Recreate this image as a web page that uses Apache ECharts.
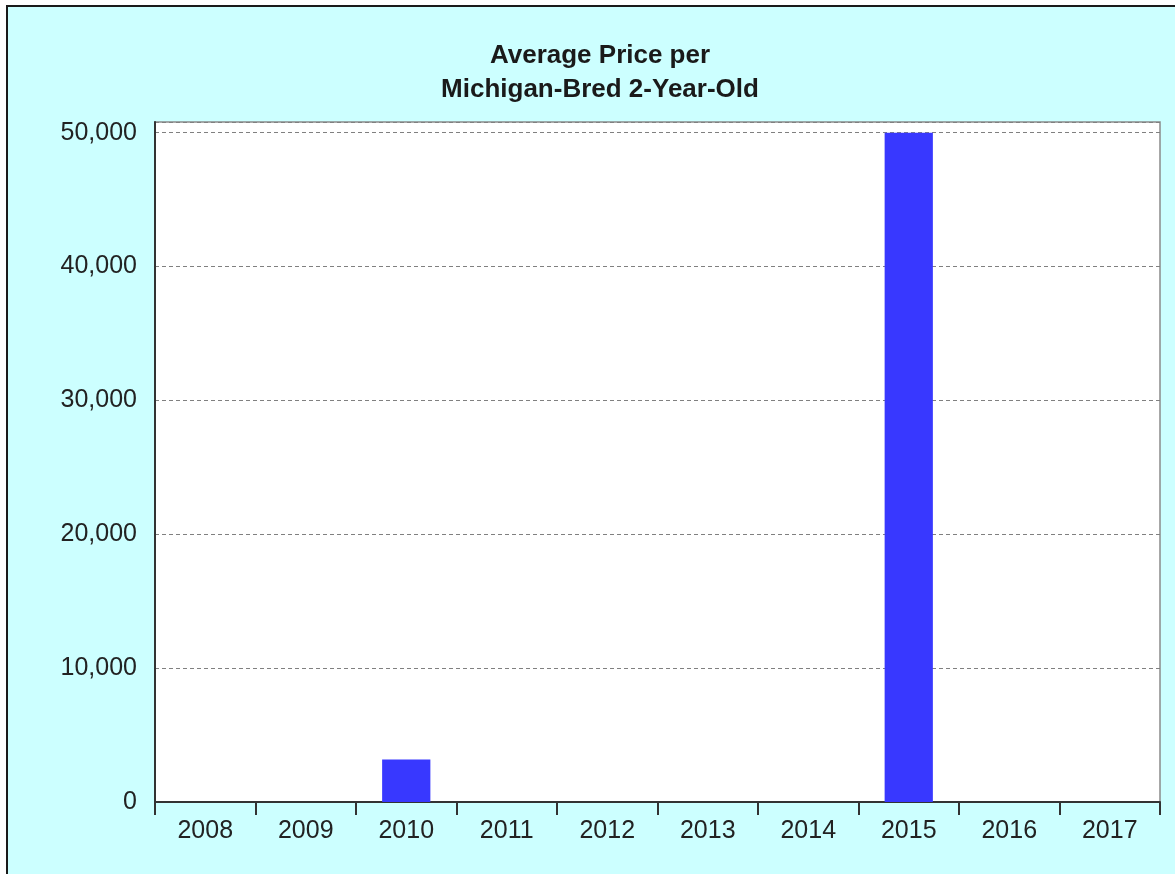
<!DOCTYPE html>
<html>
<head>
<meta charset="utf-8">
<script src="https://cdn.jsdelivr.net/npm/echarts@6/dist/echarts.min.js"></script>
<style>
  html, body { margin: 0; padding: 0; background: #ffffff; }
  #frame { position: absolute; left: 6px; top: 5px; width: 1175px; height: 874px;
           background: #CCFFFF; border-top: 2px solid #1a1a1a; border-left: 2px solid #1a1a1a; }
  #chart { position: absolute; left: 0; top: 0; width: 1175px; height: 874px; }
</style>
</head>
<body>
<div id="frame"></div>
<div id="chart"></div>
<script>
const titleLines = ['Average Price per', 'Michigan-Bred 2-Year-Old'];
const years = ['2008', '2009', '2010', '2011', '2012', '2013', '2014', '2015', '2016', '2017'];
const avgPrice = [0, 0, 3180, 0, 0, 0, 0, 50000, 0, 0];
const yTicks = [0, 10000, 20000, 30000, 40000, 50000];

const chart = echarts.init(document.getElementById('chart'));
const font = 'Liberation Sans, Arial, sans-serif';
chart.setOption({
  backgroundColor: 'transparent',
  animation: false,
  title: {
    text: titleLines.join('\n'),
    left: 595,
    textAlign: 'center',
    top: 34,
    textStyle: { fontFamily: font, fontSize: 26, fontWeight: 'bold', color: '#1a1a1a', lineHeight: 34 }
  },
  grid: {
    left: 155, right: 15, top: 122, bottom: 72,
    show: true, backgroundColor: '#ffffff', borderColor: '#8a8a8a', borderWidth: 1.5
  },
  xAxis: {
    type: 'category',
    data: years,
    axisLine: { lineStyle: { color: '#333333', width: 2 } },
    axisTick: { show: true, length: 13, lineStyle: { color: '#333333', width: 2 } },
    axisLabel: { fontFamily: font, fontSize: 25, color: '#222222', margin: 17 }
  },
  yAxis: {
    type: 'value',
    min: 0,
    max: 50800,
    interval: 10000,
    axisLine: { show: true, lineStyle: { color: '#333333', width: 2 } },
    axisTick: { show: false },
    axisLabel: {
      fontFamily: font, fontSize: 25, color: '#222222', margin: 18,
      showMaxLabel: false,
      formatter: v => yTicks.indexOf(v) >= 0 ? v.toLocaleString('en-US') : ''
    },
    splitLine: { show: true, lineStyle: { color: '#808080', type: [4, 3], width: 1 } }
  },
  series: [{
    type: 'bar',
    data: avgPrice,
    barWidth: '48%',
    itemStyle: { color: '#3838FF' }
  }]
});
</script>
</body>
</html>
